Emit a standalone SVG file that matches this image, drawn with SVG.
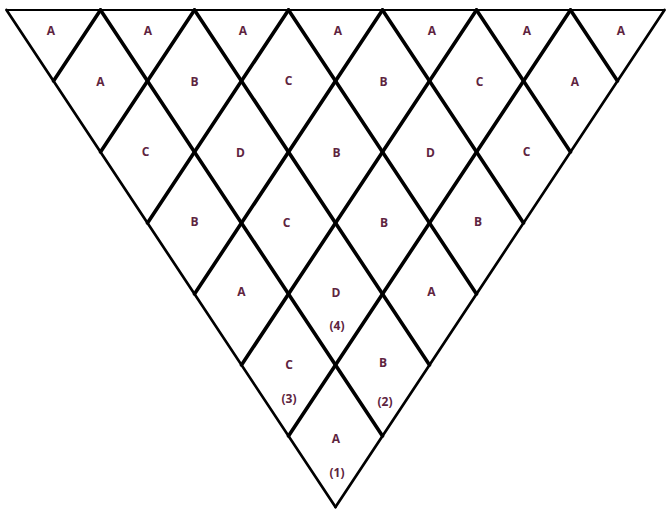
<svg xmlns="http://www.w3.org/2000/svg" width="667" height="509" viewBox="0 0 667 509">
<style>
.cell{fill:#ffffff;stroke:none}
.lbl{font-family:"Open Sans","Noto Sans","Liberation Sans",sans-serif;font-weight:bold;font-size:12px;fill:#5e2440;text-anchor:middle}
.in{stroke:#000;stroke-width:3.6;stroke-linecap:round;fill:none}
.bd{stroke:#000;stroke-width:2.7;stroke-linecap:round;fill:none}
.top{stroke:#000;stroke-width:1.8;fill:none}
</style>
<rect width="667" height="509" fill="#ffffff"/>
<!-- top-row triangles -->
<g id="t1"><polygon class="cell" points="6.5,10 100.5,10 53.5,81"/><text class="lbl" x="51" y="35">A</text></g>
<g id="t2"><polygon class="cell" points="100.5,10 194.5,10 147.5,81"/><text class="lbl" x="148" y="35">A</text></g>
<g id="t3"><polygon class="cell" points="194.5,10 288.5,10 241.5,81"/><text class="lbl" x="243" y="35">A</text></g>
<g id="t4"><polygon class="cell" points="288.5,10 382.5,10 335.5,81"/><text class="lbl" x="338" y="35">A</text></g>
<g id="t5"><polygon class="cell" points="382.5,10 476.5,10 429.5,81"/><text class="lbl" x="432" y="35">A</text></g>
<g id="t6"><polygon class="cell" points="476.5,10 570.5,10 523.5,81"/><text class="lbl" x="527" y="35">A</text></g>
<g id="t7"><polygon class="cell" points="570.5,10 664.5,10 617.5,81"/><text class="lbl" x="621" y="35">A</text></g>
<!-- row 1 diamonds -->
<g id="r1c1"><text class="lbl" x="100.5" y="86">A</text></g>
<g id="r1c2"><text class="lbl" x="194.5" y="86">B</text></g>
<g id="r1c3"><text class="lbl" x="288.5" y="85">C</text></g>
<g id="r1c4"><text class="lbl" x="383.5" y="86">B</text></g>
<g id="r1c5"><text class="lbl" x="479.5" y="86">C</text></g>
<g id="r1c6"><text class="lbl" x="575" y="86">A</text></g>
<!-- row 2 -->
<g id="r2c1"><text class="lbl" x="145.5" y="156">C</text></g>
<g id="r2c2"><text class="lbl" x="240.5" y="157">D</text></g>
<g id="r2c3"><text class="lbl" x="336.5" y="157">B</text></g>
<g id="r2c4"><text class="lbl" x="430.5" y="157">D</text></g>
<g id="r2c5"><text class="lbl" x="526.5" y="156">C</text></g>
<!-- row 3 -->
<g id="r3c1"><text class="lbl" x="194.5" y="226">B</text></g>
<g id="r3c2"><text class="lbl" x="286.5" y="227">C</text></g>
<g id="r3c3"><text class="lbl" x="384" y="227">B</text></g>
<g id="r3c4"><text class="lbl" x="478" y="226">B</text></g>
<!-- row 4 -->
<g id="r4c1"><text class="lbl" x="241.5" y="296">A</text></g>
<g id="r4c2"><text class="lbl" x="336" y="297">D</text><text class="lbl" x="337" y="330">(4)</text></g>
<g id="r4c3"><text class="lbl" x="431.5" y="296">A</text></g>
<!-- row 5 -->
<g id="r5c1"><text class="lbl" x="289" y="369">C</text><text class="lbl" x="289" y="403">(3)</text></g>
<g id="r5c2"><text class="lbl" x="383" y="367">B</text><text class="lbl" x="385" y="406">(2)</text></g>
<!-- row 6 -->
<g id="r6c1"><text class="lbl" x="336" y="443">A</text><text class="lbl" x="337" y="477">(1)</text></g>
<!-- grid lines -->
<g id="connectors">
<line class="top" x1="6.5" y1="10" x2="664.5" y2="10"/>
<line class="bd" x1="6.5" y1="10" x2="335.5" y2="507"/>
<line class="bd" x1="664.5" y1="10" x2="335.5" y2="507"/>
<line class="in" x1="100.5" y1="10" x2="382.5" y2="436"/>
<line class="in" x1="194.5" y1="10" x2="429.5" y2="365"/>
<line class="in" x1="288.5" y1="10" x2="476.5" y2="294"/>
<line class="in" x1="382.5" y1="10" x2="523.5" y2="223"/>
<line class="in" x1="476.5" y1="10" x2="570.5" y2="152"/>
<line class="in" x1="570.5" y1="10" x2="617.5" y2="81"/>
<line class="in" x1="100.5" y1="10" x2="53.5" y2="81"/>
<line class="in" x1="194.5" y1="10" x2="100.5" y2="152"/>
<line class="in" x1="288.5" y1="10" x2="147.5" y2="223"/>
<line class="in" x1="382.5" y1="10" x2="194.5" y2="294"/>
<line class="in" x1="476.5" y1="10" x2="241.5" y2="365"/>
<line class="in" x1="570.5" y1="10" x2="288.5" y2="436"/>
</g>
</svg>
